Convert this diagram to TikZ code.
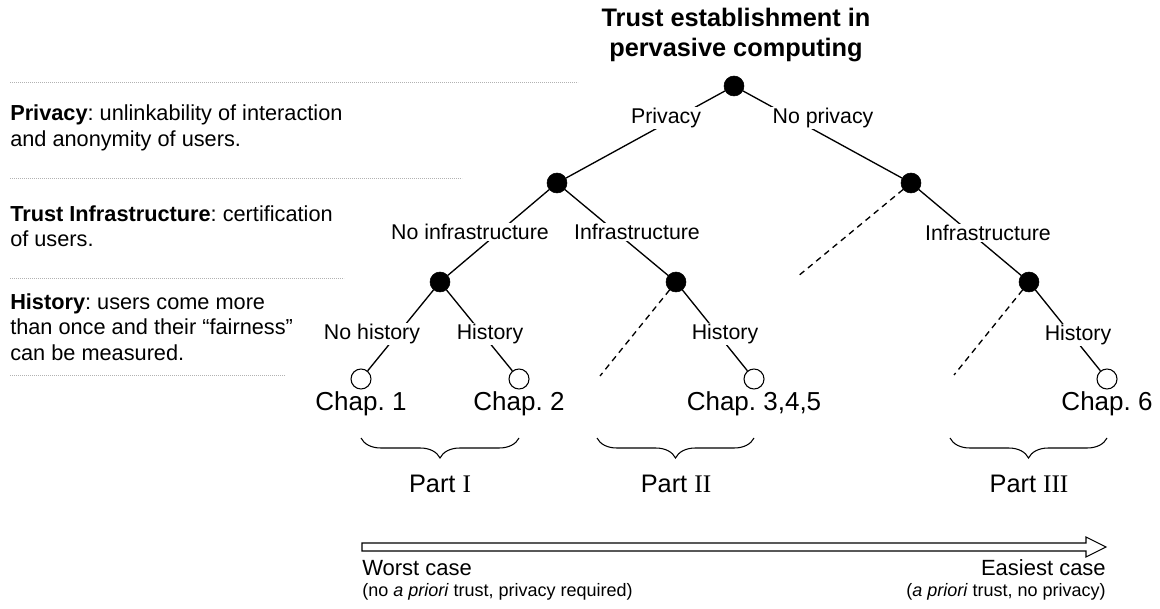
\documentclass[tikz,border=0pt]{standalone}
\usepackage{fontspec}
\setmainfont{Liberation Sans}
\newfontfamily\romfont{Liberation Serif}
\usetikzlibrary{positioning,backgrounds,decorations.pathreplacing}
\frenchspacing
\tikzset{
  fulldot/.style={circle,fill=black,draw=black,inner sep=0pt,minimum size=15pt},
  leafdot/.style={circle,fill=white,draw=black,line width=0.8pt,inner sep=0pt,minimum size=15pt},
  lab/.style={fill=white,inner sep=1pt,font=\fontsize{16}{19}\selectfont},
  branch/.style={line width=1pt},
  gone/.style={line width=1pt,dash pattern=on 4.5pt off 3.5pt},
  sep/.style={gray!60,line width=0.6pt,dash pattern=on 0.6pt off 0.9pt},
  note/.style={anchor=west,align=left,inner sep=0pt,font=\fontsize{16.3}{19}\selectfont},
  chap/.style={inner sep=0pt,font=\fontsize{19.5}{22}\selectfont},
  part/.style={inner sep=0pt,font=\fontsize{19}{22}\selectfont},
  curly/.style={decorate,decoration={brace,amplitude=15pt,mirror},line width=0.8pt},
  endtext/.style={inner sep=0pt,font=\fontsize{16.5}{19}\selectfont},
  endnote/.style={inner sep=0pt,font=\fontsize{13.5}{15}\selectfont},
}
\begin{document}
\begin{tikzpicture}[x=0.75pt,y=-0.75pt]
\useasboundingbox (0,0) rectangle (1160,609);

% left column
\draw[sep] (10,82) -- (578,82);
\draw[sep] (10,178) -- (462,178);
\draw[sep] (10,278) -- (344,278);
\draw[sep] (10,375) -- (285,375);
\node[note] (n1) at (10,128) {\textbf{Privacy}: unlinkability of interaction\\and anonymity of users.};
\node[note] (n2) at (10,226) {\textbf{Trust Infrastructure}: certification\\of users.};
\node[note] (n3) at (10,327) {\textbf{History}: users come more\\than once and their “fairness”\\can be measured.};

% tree
\node[align=center,font=\bfseries\fontsize{19}{22.5}\selectfont] (title) at (736,35) {Trust establishment in\\pervasive computing};
\node[fulldot] (root) at (734,86) {};
\node[fulldot] (priv) at (557,183) {};
\node[fulldot] (nopriv) at (911,183) {};
\node[fulldot] (noinfra) at (440,282) {};
\node[fulldot] (infra) at (676,282) {};
\node[fulldot] (infra3) at (1029,282) {};
\node[leafdot] (ch1) at (361,379) {};
\node[leafdot] (ch2) at (519,379) {};
\node[leafdot] (ch345) at (754,379) {};
\node[leafdot] (ch6) at (1107,379) {};
\coordinate (cut1) at (797,277);
\coordinate (cut2) at (600,376);
\coordinate (cut3) at (954,375);

\node[lab] (lpriv) at (666,118) {Privacy};
\node[lab] (lnopriv) at (823,118) {No privacy};
\node[lab] (lnoinfra) at (470,232) {No infrastructure};
\node[lab] (linfra) at (637,232) {Infrastructure};
\node[lab] (linfra3) at (988,233) {Infrastructure};
\node[lab] (lnohist) at (372,334) {No history};
\node[lab] (lhist) at (490,334) {History};
\node[lab] (lhist2) at (725,334) {History};
\node[lab] (lhist3) at (1078,335) {History};

\begin{scope}[on background layer]
\draw[branch] (root) -- (priv);
\draw[branch] (root) -- (nopriv);
\draw[branch] (priv) -- (noinfra);
\draw[branch] (priv) -- (infra);
\draw[branch] (nopriv) -- (infra3);
\draw[gone] (nopriv) -- (cut1);
\draw[branch] (noinfra) -- (ch1);
\draw[branch] (noinfra) -- (ch2);
\draw[gone] (infra) -- (cut2);
\draw[branch] (infra) -- (ch345);
\draw[gone] (infra3) -- (cut3);
\draw[branch] (infra3) -- (ch6);
\end{scope}

\node[chap,below=1.5pt of ch1] (t1) {Chap. 1};
\node[chap,below=1.5pt of ch2] (t2) {Chap. 2};
\node[chap,below=1.5pt of ch345] (t345) {Chap. 3,4,5};
\node[chap,below=1.5pt of ch6] (t6) {Chap. 6};

% parts
\draw[curly] (361,438) -- (519,438);
\draw[curly] (597,438) -- (754,438);
\draw[curly] (950,438) -- (1107,438);
\node[part] (p1) at (440,484) {Part {\romfont I}};
\node[part] (p2) at (676,484) {Part {\romfont II}};
\node[part] (p3) at (1029,484) {Part {\romfont III}};

% scale
\draw[line width=0.8pt,fill=white] (362,543) -- (1086,543) -- (1086,537) -- (1106,547)
  -- (1086,557) -- (1086,551) -- (362,551) -- cycle;
\node[endtext,anchor=west] (worst) at (362,568) {Worst case};
\node[endnote,anchor=west] (worstnote) at (362,592) {(no \emph{a priori} trust, privacy required)};
\node[endtext,anchor=east] (easy) at (1106,568) {Easiest case};
\node[endnote,anchor=east] (easynote) at (1106,592) {(\emph{a priori} trust, no privacy)};
\end{tikzpicture}
\end{document}
